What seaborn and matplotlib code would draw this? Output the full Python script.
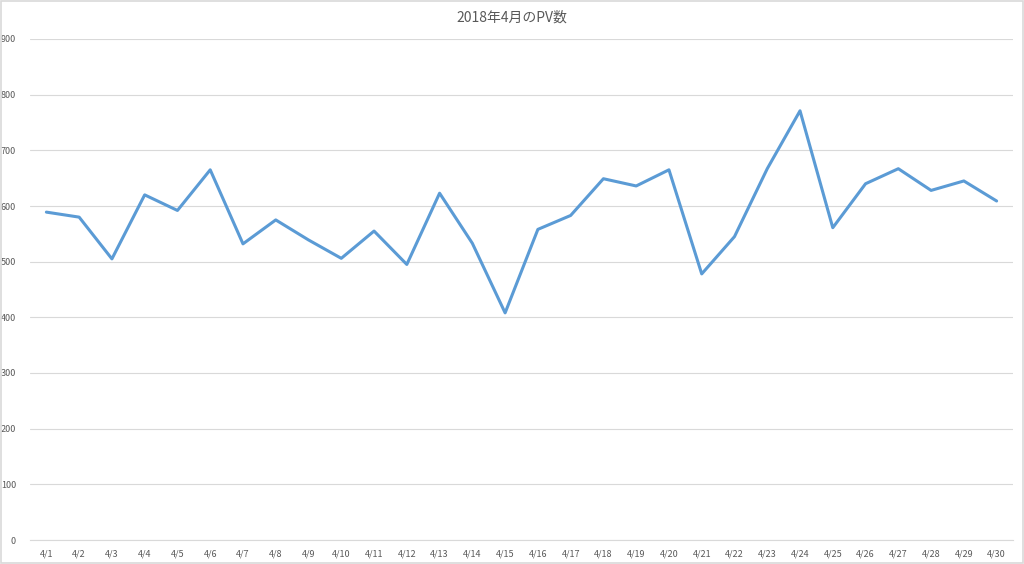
import matplotlib
matplotlib.use("Agg")
import matplotlib.pyplot as plt
import seaborn as sns
import pandas as pd
import numpy as np
from matplotlib.patches import Rectangle

days = [f"4/{d}" for d in range(1, 31)]
pv = [589, 580, 505, 620, 592, 665, 532, 575, 539, 506,
      555, 495, 623, 533, 408, 558, 583, 649, 636, 665,
      478, 545, 667, 771, 561, 640, 667, 628, 645, 609]
yticks = [0, 100, 200, 300, 400, 500, 600, 700, 800, 900]
title = "2018年4月のPV数"

sns.set_theme(style="white")
plt.rcParams['font.family'] = ['Noto Sans CJK JP', 'DejaVu Sans']

df = pd.DataFrame({"idx": np.arange(len(days)), "day": days, "pv": pv})

fig = plt.figure(figsize=(10.24, 5.64), dpi=100)
ax = fig.add_axes([30/1024, 24/564, 983/1024, 501/564])

sns.lineplot(data=df, x="idx", y="pv", ax=ax, color="#5B9BD5", linewidth=2.2, sort=False)

ax.set_xlim(-0.5, len(days) - 0.5)
ax.set_ylim(0, 900)
ax.set_yticks(yticks)
ax.set_yticklabels([str(v) for v in yticks])
ax.set_xticks(df["idx"])
ax.set_xticklabels(days)
ax.set_xticks(np.arange(-0.5, len(days), 1.0), minor=True)
ax.tick_params(axis="x", which="major", length=0, labelsize=6.5, labelcolor="#595959", pad=7)
ax.tick_params(axis="x", which="minor", length=4, color="#D9D9D9", width=0.8, direction="out")
ax.tick_params(axis="y", length=0, labelsize=6.5, labelcolor="#595959", pad=10)
ax.set_xlabel("")
ax.set_ylabel("")
ax.grid(axis="y", color="#D9D9D9", linewidth=0.8)
ax.set_axisbelow(True)
for s in ["top", "right", "left"]:
    ax.spines[s].set_visible(False)
ax.spines["bottom"].set_color("#D9D9D9")
ax.spines["bottom"].set_linewidth(0.8)

fig.text(0.5, 1 - 18/564, title, ha="center", va="center", fontsize=10, color="#595959")
fig.patches.append(Rectangle((0.001, 0.001), 0.998, 0.997, transform=fig.transFigure,
                             fill=False, edgecolor="#D9D9D9", linewidth=1.2))

fig.savefig("out.png", dpi=100)
